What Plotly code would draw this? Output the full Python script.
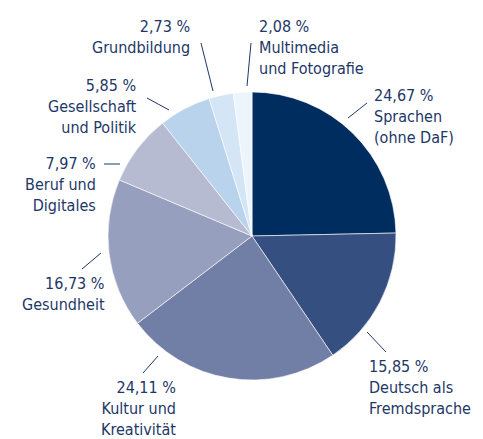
import plotly.graph_objects as go

# Kursbereiche, Anteil in %
categories = ['Sprachen<br>(ohne DaF)', 'Deutsch als<br>Fremdsprache', 'Kultur und<br>Kreativität',
              'Gesundheit', 'Beruf und<br>Digitales', 'Gesellschaft<br>und Politik',
              'Grundbildung', 'Multimedia<br>und Fotografie']
shares = [24.67, 15.85, 24.11, 16.73, 7.97, 5.85, 2.73, 2.08]
colors = ['#002d5f', '#354f80', '#717ea6', '#979fbe', '#b6bbd2', '#b9d3ec', '#d4e5f5', '#edf5fc']

W, H = 483, 439
OFF = 8  # page body margin
TEXT = '#1d3767'

# label placement (pixels in the screenshot): x, y of text block, xanchor, leader line
label_pos = [
    (372, 117, 'left', (348, 118, 367, 103)),
    (367, 387, 'left', (367, 332, 386, 352)),
    (178, 408, 'right', (158, 356, 143, 373)),
    (107, 294, 'right', (101, 253, 82, 269)),
    (98, 185, 'right', (104, 164, 120, 164)),
    (139, 106, 'right', (147, 98, 169, 110)),
    (192, 37, 'right', (201, 43, 213, 91)),
    (257, 47, 'left', (251, 43, 247, 86)),
]

def px(x):
    return (x - OFF) / W

def py_(y):
    return 1 - (y - OFF) / H

cx, cy, r = 252, 236, 144

fig = go.Figure(go.Pie(
    values=shares,
    labels=[c.replace('<br>', ' ') for c in categories],
    sort=False,
    direction='clockwise',
    rotation=0,
    textinfo='none',
    hoverinfo='label+value',
    marker=dict(colors=colors, line=dict(color='white', width=0.6)),
    domain=dict(x=[px(cx - r), px(cx + r)], y=[py_(cy + r), py_(cy - r)]),
    showlegend=False,
))

for cat, val, (x, y, anchor, ln) in zip(categories, shares, label_pos):
    txt = f'{val:.2f} %'.replace('.', ',') + '<br>' + cat
    fig.add_annotation(x=px(x), y=py_(y), xref='paper', yref='paper', text=txt,
                       showarrow=False, xanchor=anchor, yanchor='middle', align=anchor,
                       font=dict(size=16, color=TEXT))
    fig.add_shape(type='line', xref='paper', yref='paper',
                  x0=px(ln[0]), y0=py_(ln[1]), x1=px(ln[2]), y1=py_(ln[3]),
                  line=dict(color=TEXT, width=1))

fig.update_layout(
    width=W, height=H,
    margin=dict(l=0, r=0, t=0, b=0),
    paper_bgcolor='white',
    font=dict(family='DejaVu Sans Condensed, sans-serif'),
)

fig.write_html('out.html')
